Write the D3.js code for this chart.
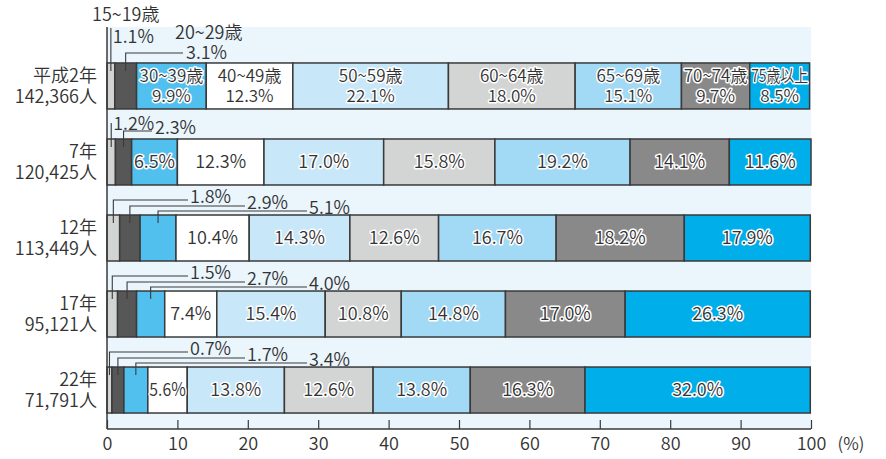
<!DOCTYPE html>
<html>
<head>
<meta charset="utf-8">
<script src="https://cdn.jsdelivr.net/npm/d3@7"></script>
<style>
  body { margin: 0; background: #fff; }
  text { font-family: "Noto Sans CJK JP", "Noto Sans", sans-serif; font-weight: 350; fill: #333; }
  .halo { paint-order: stroke; stroke: #fff; stroke-width: 3px; stroke-linejoin: round; }
</style>
</head>
<body>
<svg id="chart" width="886" height="459"></svg>
<script>
// Survey years and population totals
const years = ["平成2年", "7年", "12年", "17年", "22年"];
const totals = ["142,366人", "120,425人", "113,449人", "95,121人", "71,791人"];

// Age groups (stack order, left to right)
const ageGroups = ["15~19歳", "20~29歳", "30~39歳", "40~49歳", "50~59歳",
                   "60~64歳", "65~69歳", "70~74歳", "75歳以上"];

// Share of each age group (%) per survey year
const shareH2  = [1.1, 3.1, 9.9, 12.3, 22.1, 18.0, 15.1,  9.7,  8.5];
const shareH7  = [1.2, 2.3, 6.5, 12.3, 17.0, 15.8, 19.2, 14.1, 11.6];
const shareH12 = [1.8, 2.9, 5.1, 10.4, 14.3, 12.6, 16.7, 18.2, 17.9];
const shareH17 = [1.5, 2.7, 4.0,  7.4, 15.4, 10.8, 14.8, 17.0, 26.3];
const shareH22 = [0.7, 1.7, 3.4,  5.6, 13.8, 12.6, 13.8, 16.3, 32.0];

const xTicks = [0, 10, 20, 30, 40, 50, 60, 70, 80, 90, 100];

const colors = ["#d2d3d3", "#575757", "#52c0ee", "#ffffff", "#c8e7f8",
                "#d3d4d4", "#a2d9f5", "#898989", "#00aeea"];

const shares = [shareH2, shareH7, shareH12, shareH17, shareH22];
const rows = years.map((y, i) => ({ year: y, total: totals[i], values: shares[i], idx: i }));

const svg = d3.select("#chart");
const plot = { left: 107, right: 811, top: 27, bottom: 429 };

const x = d3.scaleLinear().domain([0, 100]).range([plot.left, plot.right]);
const y = d3.scaleBand().domain(years).range([48, 428]).paddingInner(0.395).paddingOuter(0.197);
const fmt = v => d3.format(".1f")(v) + "%";

// Plot background
svg.append("rect")
  .attr("x", plot.left).attr("y", plot.top)
  .attr("width", plot.right - plot.left).attr("height", plot.bottom - plot.top)
  .attr("fill", "#eaf5fc");

// Stacked segments
const stack = d3.stack().keys(d3.range(ageGroups.length)).value((d, k) => d.values[k]);
const series = stack(rows);

const segs = [];
series.forEach((s, k) => s.forEach(d => segs.push({ k, row: d.data, x0: d[0], x1: d[1], v: d.data.values[k] })));

svg.append("g").selectAll("rect").data(segs).join("rect")
  .attr("x", d => x(d.x0)).attr("y", d => y(d.row.year))
  .attr("width", d => x(d.x1) - x(d.x0)).attr("height", y.bandwidth())
  .attr("fill", d => colors[d.k])
  .attr("stroke", "#3a3a3a").attr("stroke-width", 1.5);

// Labels inside the wider segments (first year also names the age group)
const inside = segs.filter(d => d.v >= 5.5);
const lblG = svg.append("g");
inside.forEach(d => {
  const cx = (x(d.x0) + x(d.x1)) / 2;
  const cy = y(d.row.year) + y.bandwidth() / 2;
  const w = x(d.x1) - x(d.x0) - 3;
  const twoLine = d.row.idx === 0;
  const lines = twoLine ? [ageGroups[d.k], fmt(d.v)] : [fmt(d.v)];
  lines.forEach((t, j) => {
    const ty = cy + (j - (lines.length - 1) / 2) * 20;
    const el = lblG.append("text").attr("class", "halo")
      .attr("x", cx).attr("y", ty).attr("dy", "0.35em")
      .attr("text-anchor", "middle").attr("font-size", twoLine ? 17 : 18).text(t);
    const len = el.node().getComputedTextLength();
    if (len > w) el.attr("textLength", w).attr("lengthAdjust", "spacingAndGlyphs");
  });
});

// Leader lines and labels for the narrow segments
const leadG = svg.append("g");
const line = (x1, y1, pts) => {
  leadG.append("path")
    .attr("d", d3.line()([[x1, y1], ...pts]))
    .attr("fill", "none").attr("stroke", "#3a3a3a").attr("stroke-width", 1.1);
};
const label = (tx, ty, t) => leadG.append("text")
  .attr("x", tx).attr("y", ty).attr("dy", "0.35em").attr("font-size", 18).text(t);

rows.forEach(r => {
  const small = segs.filter(d => d.row === r && d.v < 5.5);
  const top = y(r.year);
  small.forEach((d, j) => {
    const cx = (x(d.x0) + x(d.x1)) / 2;
    const bottom = top + 8;
    if (r.idx === 0) {
      if (j === 0) {
        line(cx, bottom, [[cx, plot.top + 1]]);
        label(cx + 2, 37, fmt(d.v));
        label(92, 15, ageGroups[d.k]);
      } else {
        const ly = top - 10, ex = 183;
        line(cx, bottom, [[cx, ly], [ex, ly]]);
        label(ex + 3, ly, fmt(d.v));
        label(175, 33, ageGroups[d.k]);
      }
    } else if (r.idx === 1) {
      if (j === 0) {
        line(cx, bottom, [[cx, top - 16]]);
        label(cx + 2, top - 15, fmt(d.v));
      } else {
        const ly = top - 8, ex = 152;
        line(cx, bottom, [[cx, ly], [ex, ly]]);
        label(ex + 3, ly - 3, fmt(d.v));
      }
    } else {
      const ly = top - [15, 9, 4][j];
      const ex = plot.left + [81, 138, 200][j];
      line(cx, bottom, [[cx, ly], [ex, ly]]);
      label(ex + 2, ly - 3, fmt(d.v));
    }
  });
});

// Category labels
const catG = svg.append("g");
rows.forEach(r => {
  const cy = y(r.year) + y.bandwidth() / 2;
  catG.append("text").attr("x", 97).attr("y", cy - 10).attr("dy", "0.35em")
    .attr("text-anchor", "end").attr("font-size", 18).text(r.year);
  catG.append("text").attr("x", 97).attr("y", cy + 11).attr("dy", "0.35em")
    .attr("text-anchor", "end").attr("font-size", 18).text(r.total);
});

// Axes
const xAxis = d3.axisBottom(x).tickValues(xTicks).tickSize(-9).tickPadding(8).tickFormat(d3.format("d"));
const ax = svg.append("g").attr("transform", `translate(0,${plot.bottom})`).call(xAxis);
ax.select(".domain").attr("d", `M${plot.left},0H${plot.right}`).attr("stroke", "#3a3a3a").attr("stroke-width", 1.5);
ax.selectAll(".tick line").attr("stroke", "#3a3a3a").attr("stroke-width", 1.2);
ax.selectAll(".tick text").attr("font-size", 18).attr("fill", "#333")
  .style("font-family", '"Noto Sans CJK JP", "Noto Sans", sans-serif').style("font-weight", 350);

svg.append("line")
  .attr("x1", plot.left).attr("x2", plot.left).attr("y1", plot.top).attr("y2", plot.bottom)
  .attr("stroke", "#3a3a3a").attr("stroke-width", 1.5);

svg.append("text").attr("x", 851).attr("y", 444).attr("dy", "0.35em")
  .attr("text-anchor", "middle").attr("font-size", 17).text("(%)");
</script>
</body>
</html>
